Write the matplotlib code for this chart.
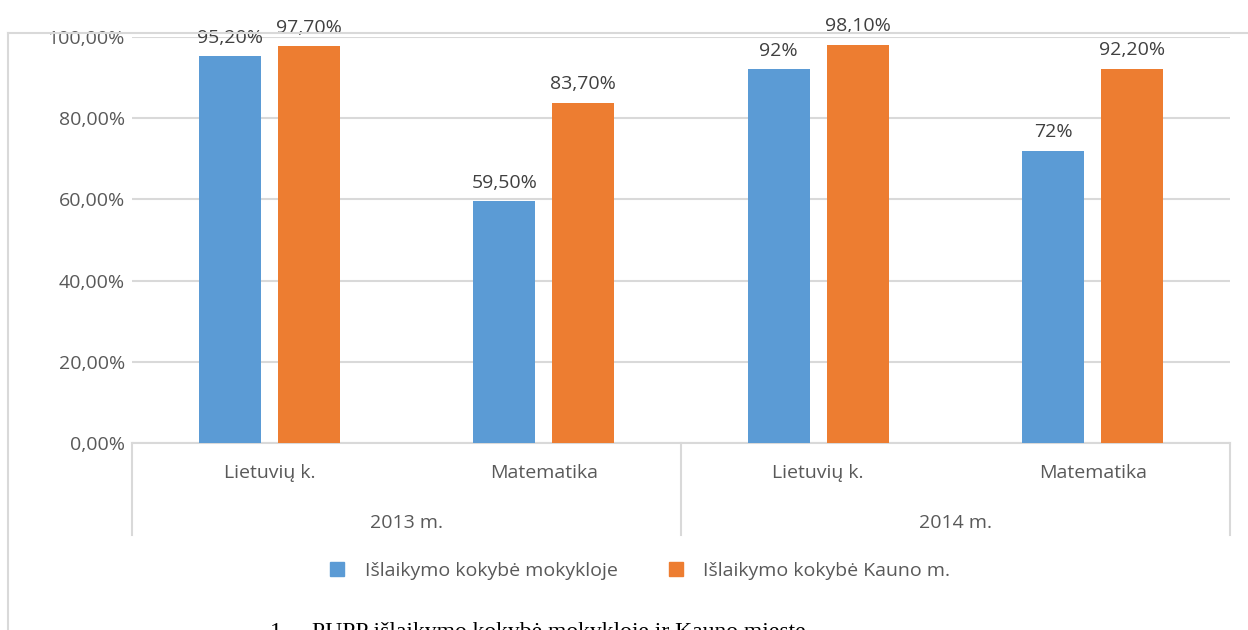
import matplotlib
matplotlib.use("Agg")
import matplotlib.pyplot as plt
from matplotlib.lines import Line2D
from matplotlib.transforms import blended_transform_factory

# data
years = ["2013 m.", "2014 m."]
subjects = ["Lietuvių k.", "Matematika", "Lietuvių k.", "Matematika"]
school = [95.2, 59.5, 92.0, 72.0]
kaunas = [97.7, 83.7, 98.1, 92.2]
school_labels = ["95,20%", "59,50%", "92%", "72%"]
kaunas_labels = ["97,70%", "83,70%", "98,10%", "92,20%"]
series_names = ["Išlaikymo kokybė mokykloje", "Išlaikymo kokybė Kauno m."]
yticks = [0, 20, 40, 60, 80, 100]
caption_num = "1."
caption = "PUPP išlaikymo kokybė mokykloje ir Kauno mieste"

BLUE = "#5B9BD5"
ORANGE = "#ED7D31"
GRID = "#D9D9D9"
TXT = "#595959"
FS = 14
W, H = 1248, 630

plt.rcParams["font.family"] = ["Open Sans", "DejaVu Sans"]

fig = plt.figure(figsize=(W / 100, H / 100), dpi=100)
# plot area in pixels: x 132..1230, y 37..443
ax = fig.add_axes([132 / W, 1 - 443 / H, (1230 - 132) / W, (443 - 37) / H])

x = list(range(len(subjects)))
bw, off = 0.226, 0.144
ax.bar([i - off for i in x], school, width=bw, color=BLUE, zorder=3)
ax.bar([i + off for i in x], kaunas, width=bw, color=ORANGE, zorder=3)

for i in x:
    ax.annotate(school_labels[i], (i - off, school[i]), xytext=(0, 7),
                textcoords="offset points", ha="center", va="bottom",
                fontsize=FS, color="#404040")
    ax.annotate(kaunas_labels[i], (i + off, kaunas[i]), xytext=(0, 7),
                textcoords="offset points", ha="center", va="bottom",
                fontsize=FS, color="#404040")

ax.set_xlim(-0.5, len(subjects) - 0.5)
ax.set_ylim(0, 100)
ax.set_yticks(yticks)
ax.set_yticklabels([f"{v},00%" for v in yticks])
ax.set_xticks(x)
ax.set_xticklabels(subjects)
ax.tick_params(axis="y", length=0, pad=5, labelsize=FS, labelcolor=TXT)
ax.tick_params(axis="x", length=0, pad=15, labelsize=FS, labelcolor=TXT)
ax.grid(axis="y", color=GRID, lw=1.5, zorder=0)
for s in ["top", "right", "left"]:
    ax.spines[s].set_visible(False)
ax.spines["bottom"].set_color(GRID)
ax.spines["bottom"].set_linewidth(1.5)

# second level of the category axis
tr = blended_transform_factory(ax.transData, ax.transAxes)
for xs in [-0.5, 1.5, 3.5]:
    ax.add_line(Line2D([xs, xs], [0, -0.2266], transform=tr, color=GRID,
                       lw=1.5, clip_on=False))
for j, yr in enumerate(years):
    ax.text(0.5 + 2 * j, -0.197, yr, transform=tr, ha="center", va="center",
            fontsize=FS, color=TXT)

handles = [Line2D([], [], ls="", marker="s", ms=10, color=c) for c in (BLUE, ORANGE)]
fig.legend(handles, series_names, loc="center", ncol=2, frameon=False,
           bbox_to_anchor=(634 / W, 1 - 571 / H), fontsize=FS,
           handletextpad=0.4, columnspacing=2.0, labelcolor=TXT)

# chart frame
fig.add_artist(Line2D([8 / W, 1], [1 - 33 / H] * 2, transform=fig.transFigure,
                      color=GRID, lw=1.5))
fig.add_artist(Line2D([8 / W, 8 / W], [0, 1 - 33 / H], transform=fig.transFigure,
                      color=GRID, lw=1.5))

# document caption, cut by the lower edge as in the source
fig.text(270 / W, 1 - 622 / H, caption_num, va="top", ha="left", fontsize=17,
         family="Liberation Serif", color="black")
fig.text(312 / W, 1 - 622 / H, caption, va="top", ha="left", fontsize=17,
         family="Liberation Serif", color="black")

fig.savefig("out.png", dpi=100)
